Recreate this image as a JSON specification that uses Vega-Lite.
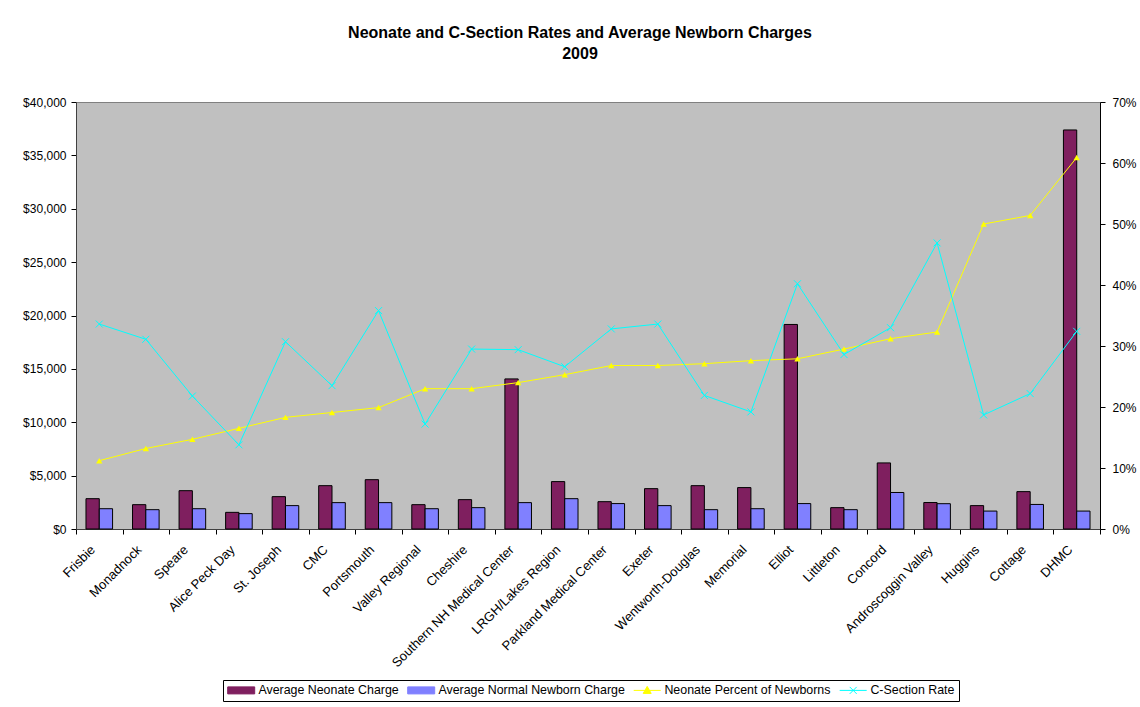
{
  "$schema": "https://vega.github.io/schema/vega-lite/v6.json",
  "width": 1024,
  "height": 427,
  "autosize": {"type": "none"},
  "padding": {"left": 76, "top": 102, "right": 40, "bottom": 178},
  "background": "white",
  "config": {
    "font": "Liberation Sans",
    "view": {"fill": "#C0C0C0", "stroke": "#808080", "strokeWidth": 1},
    "axis": {"labelFont": "Liberation Sans", "labelFontSize": 12, "labelColor": "black", "tickColor": "black", "grid": false, "title": null}
  },
  "title": {
    "text": ["Neonate and C-Section Rates and Average Newborn Charges", "2009"],
    "font": "Liberation Sans", "fontSize": 16, "fontWeight": "bold", "color": "black",
    "lineHeight": 21, "offset": 18, "anchor": "middle", "baseline": "bottom", "dx": -8
  },
  "datasets": {
    "charges": [
      {"hospital": "Frisbie", "series": "Average Neonate Charge", "value": 2840},
      {"hospital": "Frisbie", "series": "Average Normal Newborn Charge", "value": 1900},
      {"hospital": "Monadnock", "series": "Average Neonate Charge", "value": 2280},
      {"hospital": "Monadnock", "series": "Average Normal Newborn Charge", "value": 1810},
      {"hospital": "Speare", "series": "Average Neonate Charge", "value": 3590},
      {"hospital": "Speare", "series": "Average Normal Newborn Charge", "value": 1900},
      {"hospital": "Alice Peck Day", "series": "Average Neonate Charge", "value": 1560},
      {"hospital": "Alice Peck Day", "series": "Average Normal Newborn Charge", "value": 1440},
      {"hospital": "St. Joseph", "series": "Average Neonate Charge", "value": 3030},
      {"hospital": "St. Joseph", "series": "Average Normal Newborn Charge", "value": 2190},
      {"hospital": "CMC", "series": "Average Neonate Charge", "value": 4060},
      {"hospital": "CMC", "series": "Average Normal Newborn Charge", "value": 2470},
      {"hospital": "Portsmouth", "series": "Average Neonate Charge", "value": 4620},
      {"hospital": "Portsmouth", "series": "Average Normal Newborn Charge", "value": 2470},
      {"hospital": "Valley Regional", "series": "Average Neonate Charge", "value": 2280},
      {"hospital": "Valley Regional", "series": "Average Normal Newborn Charge", "value": 1900},
      {"hospital": "Cheshire", "series": "Average Neonate Charge", "value": 2750},
      {"hospital": "Cheshire", "series": "Average Normal Newborn Charge", "value": 2000},
      {"hospital": "Southern NH Medical Center", "series": "Average Neonate Charge", "value": 14060},
      {"hospital": "Southern NH Medical Center", "series": "Average Normal Newborn Charge", "value": 2470},
      {"hospital": "LRGH/Lakes Region", "series": "Average Neonate Charge", "value": 4440},
      {"hospital": "LRGH/Lakes Region", "series": "Average Normal Newborn Charge", "value": 2840},
      {"hospital": "Parkland Medical Center", "series": "Average Neonate Charge", "value": 2560},
      {"hospital": "Parkland Medical Center", "series": "Average Normal Newborn Charge", "value": 2380},
      {"hospital": "Exeter", "series": "Average Neonate Charge", "value": 3780},
      {"hospital": "Exeter", "series": "Average Normal Newborn Charge", "value": 2190},
      {"hospital": "Wentworth-Douglas", "series": "Average Neonate Charge", "value": 4060},
      {"hospital": "Wentworth-Douglas", "series": "Average Normal Newborn Charge", "value": 1810},
      {"hospital": "Memorial", "series": "Average Neonate Charge", "value": 3880},
      {"hospital": "Memorial", "series": "Average Normal Newborn Charge", "value": 1900},
      {"hospital": "Elliot", "series": "Average Neonate Charge", "value": 19160},
      {"hospital": "Elliot", "series": "Average Normal Newborn Charge", "value": 2380},
      {"hospital": "Littleton", "series": "Average Neonate Charge", "value": 2000},
      {"hospital": "Littleton", "series": "Average Normal Newborn Charge", "value": 1810},
      {"hospital": "Concord", "series": "Average Neonate Charge", "value": 6190},
      {"hospital": "Concord", "series": "Average Normal Newborn Charge", "value": 3420},
      {"hospital": "Androscoggin Valley", "series": "Average Neonate Charge", "value": 2480},
      {"hospital": "Androscoggin Valley", "series": "Average Normal Newborn Charge", "value": 2370},
      {"hospital": "Huggins", "series": "Average Neonate Charge", "value": 2190},
      {"hospital": "Huggins", "series": "Average Normal Newborn Charge", "value": 1680},
      {"hospital": "Cottage", "series": "Average Neonate Charge", "value": 3500},
      {"hospital": "Cottage", "series": "Average Normal Newborn Charge", "value": 2300},
      {"hospital": "DHMC", "series": "Average Neonate Charge", "value": 37380},
      {"hospital": "DHMC", "series": "Average Normal Newborn Charge", "value": 1680}
    ],
    "rates": [
      {"hospital": "Frisbie", "series": "Neonate Percent of Newborns", "value": 0.112},
      {"hospital": "Monadnock", "series": "Neonate Percent of Newborns", "value": 0.132},
      {"hospital": "Speare", "series": "Neonate Percent of Newborns", "value": 0.147},
      {"hospital": "Alice Peck Day", "series": "Neonate Percent of Newborns", "value": 0.165},
      {"hospital": "St. Joseph", "series": "Neonate Percent of Newborns", "value": 0.183},
      {"hospital": "CMC", "series": "Neonate Percent of Newborns", "value": 0.191},
      {"hospital": "Portsmouth", "series": "Neonate Percent of Newborns", "value": 0.199},
      {"hospital": "Valley Regional", "series": "Neonate Percent of Newborns", "value": 0.230},
      {"hospital": "Cheshire", "series": "Neonate Percent of Newborns", "value": 0.230},
      {"hospital": "Southern NH Medical Center", "series": "Neonate Percent of Newborns", "value": 0.240},
      {"hospital": "LRGH/Lakes Region", "series": "Neonate Percent of Newborns", "value": 0.253},
      {"hospital": "Parkland Medical Center", "series": "Neonate Percent of Newborns", "value": 0.268},
      {"hospital": "Exeter", "series": "Neonate Percent of Newborns", "value": 0.268},
      {"hospital": "Wentworth-Douglas", "series": "Neonate Percent of Newborns", "value": 0.271},
      {"hospital": "Memorial", "series": "Neonate Percent of Newborns", "value": 0.276},
      {"hospital": "Elliot", "series": "Neonate Percent of Newborns", "value": 0.279},
      {"hospital": "Littleton", "series": "Neonate Percent of Newborns", "value": 0.295},
      {"hospital": "Concord", "series": "Neonate Percent of Newborns", "value": 0.312},
      {"hospital": "Androscoggin Valley", "series": "Neonate Percent of Newborns", "value": 0.323},
      {"hospital": "Huggins", "series": "Neonate Percent of Newborns", "value": 0.500},
      {"hospital": "Cottage", "series": "Neonate Percent of Newborns", "value": 0.514},
      {"hospital": "DHMC", "series": "Neonate Percent of Newborns", "value": 0.609},
      {"hospital": "Frisbie", "series": "C-Section Rate", "value": 0.336},
      {"hospital": "Monadnock", "series": "C-Section Rate", "value": 0.311},
      {"hospital": "Speare", "series": "C-Section Rate", "value": 0.218},
      {"hospital": "Alice Peck Day", "series": "C-Section Rate", "value": 0.138},
      {"hospital": "St. Joseph", "series": "C-Section Rate", "value": 0.307},
      {"hospital": "CMC", "series": "C-Section Rate", "value": 0.235},
      {"hospital": "Portsmouth", "series": "C-Section Rate", "value": 0.358},
      {"hospital": "Valley Regional", "series": "C-Section Rate", "value": 0.172},
      {"hospital": "Cheshire", "series": "C-Section Rate", "value": 0.295},
      {"hospital": "Southern NH Medical Center", "series": "C-Section Rate", "value": 0.294},
      {"hospital": "LRGH/Lakes Region", "series": "C-Section Rate", "value": 0.266},
      {"hospital": "Parkland Medical Center", "series": "C-Section Rate", "value": 0.328},
      {"hospital": "Exeter", "series": "C-Section Rate", "value": 0.336},
      {"hospital": "Wentworth-Douglas", "series": "C-Section Rate", "value": 0.219},
      {"hospital": "Memorial", "series": "C-Section Rate", "value": 0.192},
      {"hospital": "Elliot", "series": "C-Section Rate", "value": 0.402},
      {"hospital": "Littleton", "series": "C-Section Rate", "value": 0.286},
      {"hospital": "Concord", "series": "C-Section Rate", "value": 0.330},
      {"hospital": "Androscoggin Valley", "series": "C-Section Rate", "value": 0.469},
      {"hospital": "Huggins", "series": "C-Section Rate", "value": 0.187},
      {"hospital": "Cottage", "series": "C-Section Rate", "value": 0.222},
      {"hospital": "DHMC", "series": "C-Section Rate", "value": 0.324}
    ]
  },
  "encoding": {
    "x": {
      "field": "hospital", "type": "nominal",
      "scale": {
        "domain": ["Frisbie", "Monadnock", "Speare", "Alice Peck Day", "St. Joseph", "CMC", "Portsmouth", "Valley Regional", "Cheshire", "Southern NH Medical Center", "LRGH/Lakes Region", "Parkland Medical Center", "Exeter", "Wentworth-Douglas", "Memorial", "Elliot", "Littleton", "Concord", "Androscoggin Valley", "Huggins", "Cottage", "DHMC"],
        "paddingInner": 0, "paddingOuter": 0
      },
      "axis": {"labelAngle": -45, "labelAlign": "right", "labelBaseline": "top", "labelFontSize": 13, "tickBand": "extent", "tickSize": 5, "domainColor": "#404040", "labelPadding": 9, "labelOffset": -11}
    },
    "color": {
      "field": "series", "type": "nominal",
      "scale": {
        "domain": ["Average Neonate Charge", "Average Normal Newborn Charge", "Neonate Percent of Newborns", "C-Section Rate"],
        "range": ["#7F1F5F", "#8080FF", "#FFFF00", "#00FFFF"]
      },
      "legend": {
        "orient": "none", "legendX": 147, "legendY": 578, "direction": "horizontal", "title": null,
        "strokeColor": "black", "padding": 4, "fillColor": "white",
        "labelFont": "Liberation Sans", "labelFontSize": 12.4, "labelColor": "black", "labelLimit": 0,
        "symbolSize": 100, "symbolOffset": 8, "labelOffset": 11, "columnPadding": 6,
        "encode": {
          "symbols": {
            "update": {
              "shape": {"signal": "datum.value === 'Neonate Percent of Newborns' ? 'M-2.7,0H2.7M-0.8,0.6L0,-0.8L0.8,0.6Z' : datum.value === 'C-Section Rate' ? 'M-2.7,0H2.7M-0.7,-0.7L0.7,0.7M-0.7,0.7L0.7,-0.7' : 'M-2.7,-0.7H2.7V0.7H-2.7Z'"},
              "fill": {"signal": "datum.value === 'C-Section Rate' ? 'transparent' : scale('color', datum.value)"},
              "stroke": {"signal": "indexof(['Average Neonate Charge','Average Normal Newborn Charge'], datum.value) >= 0 ? 'black' : scale('color', datum.value)"},
              "strokeWidth": {"value": 1},
              "opacity": {"value": 1},
              "fillOpacity": {"value": 1},
              "strokeOpacity": {"value": 1}
            }
          }
        }
      }
    }
  },
  "layer": [
    {
      "data": {"name": "charges"},
      "mark": {"type": "bar", "stroke": "black", "strokeWidth": 1},
      "encoding": {
        "xOffset": {"field": "series", "type": "nominal", "sort": ["Average Neonate Charge", "Average Normal Newborn Charge"], "scale": {"paddingInner": 0, "paddingOuter": 0.75}},
        "y": {
          "field": "value", "type": "quantitative",
          "scale": {"domain": [0, 40000], "nice": false},
          "axis": {"orient": "left", "format": "$,.0f", "values": [0, 5000, 10000, 15000, 20000, 25000, 30000, 35000, 40000], "tickSize": 5, "domainColor": "#404040", "labelPadding": 5}
        }
      }
    },
    {
      "data": {"name": "rates"},
      "encoding": {
        "y": {
          "field": "value", "type": "quantitative",
          "scale": {"domain": [0, 0.7], "nice": false},
          "axis": {"orient": "right", "format": ".0%", "values": [0, 0.1, 0.2, 0.3, 0.4, 0.5, 0.6, 0.7], "tickSize": 5, "domainColor": "black", "labelPadding": 7}
        }
      },
      "layer": [
        {"mark": {"type": "line", "strokeWidth": 1}},
        {
          "transform": [{"filter": "datum.series === 'Neonate Percent of Newborns'"}],
          "mark": {"type": "point", "shape": "triangle-up", "filled": true, "size": 40, "opacity": 1}
        },
        {
          "transform": [{"filter": "datum.series === 'C-Section Rate'"}],
          "mark": {"type": "point", "shape": "M-1,-1L1,1M-1,1L1,-1", "filled": false, "size": 49, "strokeWidth": 1, "opacity": 1}
        }
      ]
    }
  ],
  "resolve": {"scale": {"y": "independent"}}
}
